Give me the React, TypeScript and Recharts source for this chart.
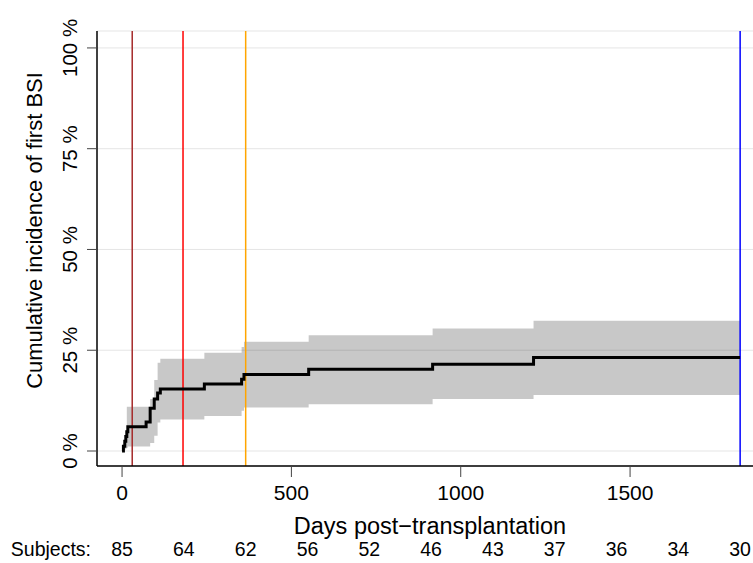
import React from "react";
import {
  ComposedChart,
  Area,
  Line,
  XAxis,
  YAxis,
  CartesianGrid,
  ReferenceLine,
  Label,
} from "recharts";

// Cumulative incidence of first BSI (step curve + grey CI band), with
// marker lines at 30 / 180 / 365 days and 5 years, plus number at risk below.

const DAYS = [0, 4, 8, 11, 14, 17, 71, 83, 95, 105, 113, 243, 353, 360, 551, 917, 1215, 1825];
const ESTIMATE = [0, 1.2, 2.4, 3.6, 4.8, 6.0, 7.2, 10.6, 12.9, 14.4, 15.4, 16.6, 17.8, 19.0, 20.3, 21.5, 23.2, 23.2];
const LOWER = [0, 0.2, 0.4, 0.6, 0.8, 1.1, 1.1, 2.0, 3.8, 7.1, 7.8, 8.7, 10.0, 10.8, 11.6, 12.9, 13.9, 13.9];
const UPPER = [0, 1.5, 3.0, 5.0, 11.0, 11.0, 11.0, 12.9, 17.6, 21.9, 22.9, 24.4, 25.8, 27.1, 28.7, 30.4, 32.3, 32.3];

const X_TICKS = [0, 500, 1000, 1500];
const Y_TICKS = [0, 25, 50, 75, 100];

const RISK_DAYS = [0, 182.5, 365, 547.5, 730, 912.5, 1095, 1277.5, 1460, 1642.5, 1825];
const RISK_COUNTS = [85, 64, 62, 56, 52, 46, 43, 37, 36, 34, 30];

const MARKER_DAYS = [30, 180, 365, 1825];
const MARKER_COLORS = ["#A52A2A", "#FF0000", "#FFA500", "#0000FF"];

const X_DOMAIN: [number, number] = [-74, 1863];
const Y_DOMAIN: [number, number] = [-3.72, 104.2];

const FONT = "'Liberation Sans', Arial, Helvetica, sans-serif";
const FS_TICK = 21;
const FS_TITLE = 23.5;
const FS_RISK = 19.5;

const rows = DAYS.map((d, i) => ({
  day: d,
  est: ESTIMATE[i],
  band: [LOWER[i], UPPER[i]],
}));

function YTick({ x, y, payload }: any) {
  return (
    <text
      x={x}
      y={y}
      transform={`rotate(-90 ${x} ${y})`}
      textAnchor="middle"
      fontSize={20.5}
      fontFamily={FONT}
      fill="#000"
    >
      {payload.value} %
    </text>
  );
}

function XTick({ x, y, payload }: any) {
  return (
    <text x={x} y={y} dy="0.71em" textAnchor="middle" fontSize={FS_TICK} fontFamily={FONT} fill="#000">
      {payload.value}
    </text>
  );
}

function RiskTick({ x, y, payload }: any) {
  const i = RISK_DAYS.indexOf(payload.value);
  return (
    <text x={x} y={y} dy="0.71em" textAnchor="middle" fontSize={FS_RISK} fontFamily={FONT} fill="#000">
      {RISK_COUNTS[i]}
    </text>
  );
}

export default function App() {
  return (
    <div style={{ position: "absolute", left: 0, top: 0, background: "#fff" }}>
      <ComposedChart
        width={753}
        height={563}
        data={rows}
        margin={{ top: 31, right: 0, bottom: 0, left: 0 }}
      >
        <CartesianGrid vertical={false} stroke="#E5E5E5" strokeWidth={1} />
        <XAxis
          dataKey="day"
          type="number"
          domain={X_DOMAIN}
          ticks={X_TICKS}
          interval={0}
          allowDataOverflow
          height={65}
          tickSize={11}
          tickMargin={8}
          tick={<XTick />}
          tickLine={{ stroke: "#444" }}
          axisLine={{ stroke: "#000", strokeWidth: 1.5 }}
        >
          <Label
            content={({ viewBox }: any) => (
              <text
                x={viewBox.x + viewBox.width / 2 + 5}
                y={viewBox.y + 68}
                textAnchor="middle"
                fontSize={FS_TITLE}
                fontFamily={FONT}
                fill="#000"
              >
                Days post−transplantation
              </text>
            )}
          />
        </XAxis>
        <XAxis
          xAxisId="risk"
          dataKey="day"
          type="number"
          domain={X_DOMAIN}
          ticks={RISK_DAYS}
          interval={0}
          allowDataOverflow
          height={32}
          tickSize={0}
          tickMargin={11}
          tick={<RiskTick />}
          tickLine={false}
          axisLine={false}
        >
          <Label
            content={({ viewBox }: any) => (
              <text
                x={viewBox.x - 6}
                y={viewBox.y + 25}
                textAnchor="end"
                fontSize={FS_RISK}
                fontFamily={FONT}
                fill="#000"
              >
                Subjects:
              </text>
            )}
          />
        </XAxis>
        <XAxis
          xAxisId="top"
          orientation="top"
          dataKey="day"
          type="number"
          domain={X_DOMAIN}
          allowDataOverflow
          height={0}
          tick={false}
          tickLine={false}
          axisLine={{ stroke: "#000", strokeWidth: 1.5 }}
        />
        <YAxis
          type="number"
          domain={Y_DOMAIN}
          ticks={Y_TICKS}
          interval={0}
          allowDataOverflow
          width={97}
          tickSize={10}
          tickMargin={10}
          tick={<YTick />}
          tickLine={{ stroke: "#444" }}
          axisLine={{ stroke: "#000", strokeWidth: 1.5 }}
        >
          <Label
            content={({ viewBox }: any) => {
              const cx = 42;
              const cy = viewBox.y + viewBox.height / 2 - 18;
              return (
                <text
                  x={cx}
                  y={cy}
                  transform={`rotate(-90 ${cx} ${cy})`}
                  textAnchor="middle"
                  fontSize={22}
                  fontFamily={FONT}
                  fill="#000"
                >
                  Cumulative incidence of first BSI
                </text>
              );
            }}
          />
        </YAxis>
        <Area
          dataKey="band"
          type="stepAfter"
          stroke="none"
          fill="#000"
          fillOpacity={0.216}
          isAnimationActive={false}
        />
        {MARKER_DAYS.map((d, i) => (
          <ReferenceLine
            key={d}
            x={d}
            stroke={MARKER_COLORS[i]}
            strokeWidth={1.5}
          />
        ))}
        <Line
          dataKey="est"
          type="stepAfter"
          stroke="#000"
          strokeWidth={3}
          dot={false}
          isAnimationActive={false}
        />
      </ComposedChart>
    </div>
  );
}
